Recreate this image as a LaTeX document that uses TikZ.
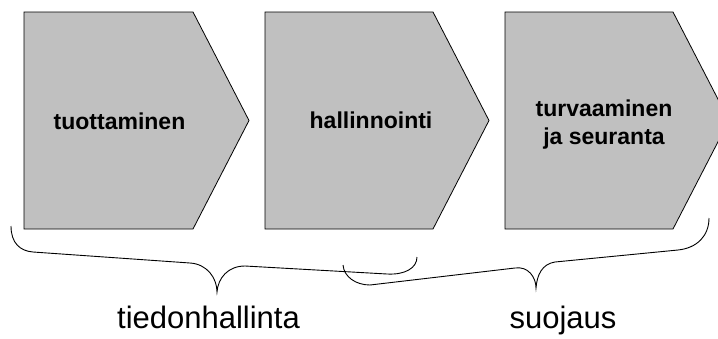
\documentclass[tikz,border=0pt]{standalone}
\usepackage{fontspec}
\setmainfont{Liberation Sans}
\definecolor{stagegray}{HTML}{C0C0C0}
\begin{document}
\begin{tikzpicture}[x=1pt, y=-1pt,
    stage/.style={draw=black, fill=stagegray, line width=0.8pt, line join=miter},
    stagetext/.style={font=\fontsize{23}{27.3}\selectfont\bfseries, align=center, inner sep=0pt},
    bracetext/.style={font=\fontsize{31}{36}\selectfont, inner sep=0pt},
    bracket/.style={draw=black, line width=0.9pt}]
    \useasboundingbox (0,0) rectangle (718,338);
    \clip (0,0) rectangle (718,338);

    % the three stages
    \filldraw[stage] (24,12) -- (193,12) -- (249,120.5) -- (193,229) -- (24,229) -- cycle;
    \filldraw[stage] (265,12) -- (433,12) -- (489,120.5) -- (433,229) -- (265,229) -- cycle;
    \filldraw[stage] (505,12) -- (673,12) -- (729,120.5) -- (673,229) -- (505,229) -- cycle;

    \node[stagetext, anchor=base] (tuot) at (119.5,129) {tuottaminen};
    \node[stagetext, anchor=base] (hall) at (371,128.5) {hallinnointi};
    \node[stagetext] (turv) at (604,124.5) {turvaaminen\\ja seuranta};

    % braces
    \draw[bracket] (11,226) .. controls (11,243) and (20,251) .. (33,252)
        -- (190,263) .. controls (207,264) and (217,278) .. (217,292)
        .. controls (218,278) and (228,266) .. (245,266)
        -- (387,274) .. controls (405,275) and (417,268) .. (417,257);
    \draw[bracket] (343,265) .. controls (344,277) and (356,285) .. (370,285)
        -- (515,268) .. controls (528,266) and (536,277) .. (536,288)
        .. controls (537,275) and (542,264) .. (555,262)
        -- (678,250) .. controls (697,248) and (709,236) .. (709,218);

    \node[bracetext, anchor=base] (tiedon) at (208.5,328) {tiedonhallinta};
    \node[bracetext, anchor=base] (suoj) at (563,328) {suojaus};
\end{tikzpicture}
\end{document}
